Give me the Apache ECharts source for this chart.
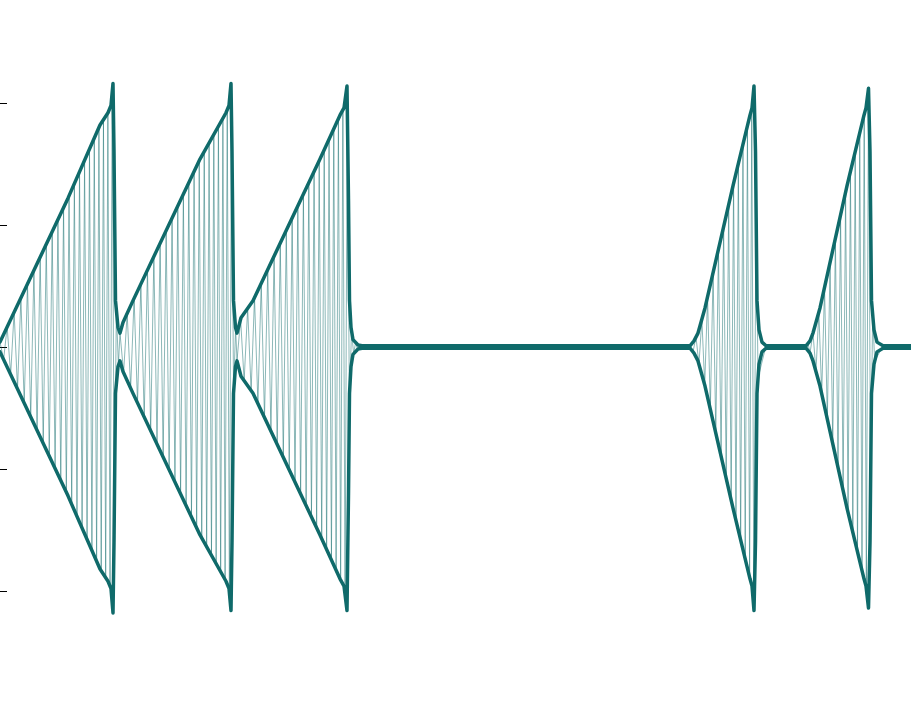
<!DOCTYPE html>
<html>
<head>
<meta charset="utf-8">
<script src="https://cdn.jsdelivr.net/npm/echarts@6/dist/echarts.min.js"></script>
<style>
html,body{margin:0;padding:0;background:#fff;}
#chart{width:911px;height:702px;}
</style>
</head>
<body>
<div id="chart"></div>
<script>
// Envelope breakpoints (time in screen-like units 0..911, amplitude in axis units)
const envX = [0, 68, 100, 108, 111, 113, 114, 115.5, 118, 120, 123, 133,
  200, 226, 229, 231, 232, 233.5, 235.5, 237, 241, 253,
  320, 340, 344, 347, 348.5, 349.5, 351, 353, 358, 362,
  690, 694, 698, 705, 733, 750, 752, 754, 755.5, 757, 759, 762, 766,
  806, 810, 813, 820, 847, 864, 866, 868.5, 870, 871.5, 874, 877, 883, 911];
const envUpper = [0.02, 0.61, 0.91, 0.96, 0.99, 1.08, 0.80, 0.19, 0.08, 0.057, 0.10, 0.19,
  0.77, 0.96, 0.99, 1.08, 0.80, 0.19, 0.08, 0.057, 0.12, 0.19,
  0.77, 0.95, 0.98, 1.07, 0.60, 0.19, 0.08, 0.03, 0.008, 0.005,
  0.005, 0.025, 0.057, 0.16, 0.66, 0.95, 0.98, 1.07, 0.80, 0.19, 0.07, 0.02, 0.005,
  0.005, 0.025, 0.057, 0.16, 0.66, 0.95, 0.98, 1.06, 0.80, 0.19, 0.07, 0.02, 0.005, 0.005];
const envLower = [-0.02, -0.61, -0.91, -0.96, -0.99, -1.09, -0.80, -0.19, -0.08, -0.057, -0.10, -0.19,
  -0.77, -0.96, -0.99, -1.08, -0.80, -0.19, -0.08, -0.057, -0.12, -0.19,
  -0.77, -0.95, -0.98, -1.08, -0.60, -0.19, -0.08, -0.03, -0.008, -0.005,
  -0.005, -0.025, -0.057, -0.16, -0.66, -0.95, -0.98, -1.08, -0.80, -0.19, -0.07, -0.02, -0.005,
  -0.005, -0.025, -0.057, -0.16, -0.66, -0.95, -0.98, -1.07, -0.80, -0.19, -0.07, -0.02, -0.005, -0.005];

// Oscillation (carrier) bursts: start/end time and half-cycle spacing at start/end
const burstStart = [0, 120, 237, 360, 693, 766, 810, 883];
const burstEnd = [120, 237, 358, 693, 760, 810, 875, 911];
const stepStart = [3.6, 3.6, 3.6, 3, 3, 3, 3, 3];
const stepEnd = [2.0, 2.0, 2.0, 3, 2.0, 3, 2.0, 3];

const yTicks = [-1, -0.5, 0, 0.5, 1];

function envAt(arr, x) {
  if (x <= envX[0]) return arr[0];
  for (let i = 1; i < envX.length; i++) {
    if (x <= envX[i]) {
      const t = (x - envX[i - 1]) / (envX[i] - envX[i - 1]);
      return arr[i - 1] + t * (arr[i] - arr[i - 1]);
    }
  }
  return arr[arr.length - 1];
}

const upperData = envX.map((x, i) => [x, envUpper[i]]);
const lowerData = envX.map((x, i) => [x, envLower[i]]);

const carrier = [];
let sign = 1;
for (let b = 0; b < burstStart.length; b++) {
  let x = burstStart[b];
  const len = burstEnd[b] - burstStart[b];
  while (x < burstEnd[b]) {
    const f = (x - burstStart[b]) / len;
    carrier.push([x, sign > 0 ? envAt(envUpper, x) : envAt(envLower, x)]);
    sign = -sign;
    x += stepStart[b] + f * (stepEnd[b] - stepStart[b]);
  }
}

const chart = echarts.init(document.getElementById('chart'), null, {renderer: 'canvas'});
chart.setOption({
  animation: false,
  backgroundColor: '#ffffff',
  grid: {left: 0, right: 0, top: 103, bottom: 111, outerBoundsMode: 'none', containLabel: false},
  xAxis: {
    type: 'value', min: 0, max: 911,
    show: false
  },
  yAxis: {
    type: 'value', min: yTicks[0], max: yTicks[yTicks.length - 1], interval: 0.5,
    axisLine: {show: false},
    axisTick: {show: true, inside: true, length: 7, lineStyle: {color: '#000', width: 1}},
    axisLabel: {show: false},
    splitLine: {show: false}
  },
  series: [
    {
      type: 'line', data: carrier, symbol: 'none', clip: false, z: 2,
      lineStyle: {color: '#0f6a6a', width: 1, opacity: 0.48}
    },
    {
      type: 'line', data: upperData, symbol: 'none', clip: false, z: 3,
      lineStyle: {color: '#0f6a6a', width: 3.5, join: 'round', cap: 'round'}
    },
    {
      type: 'line', data: lowerData, symbol: 'none', clip: false, z: 3,
      lineStyle: {color: '#0f6a6a', width: 3.5, join: 'round', cap: 'round'}
    }
  ]
});
</script>
</body>
</html>
